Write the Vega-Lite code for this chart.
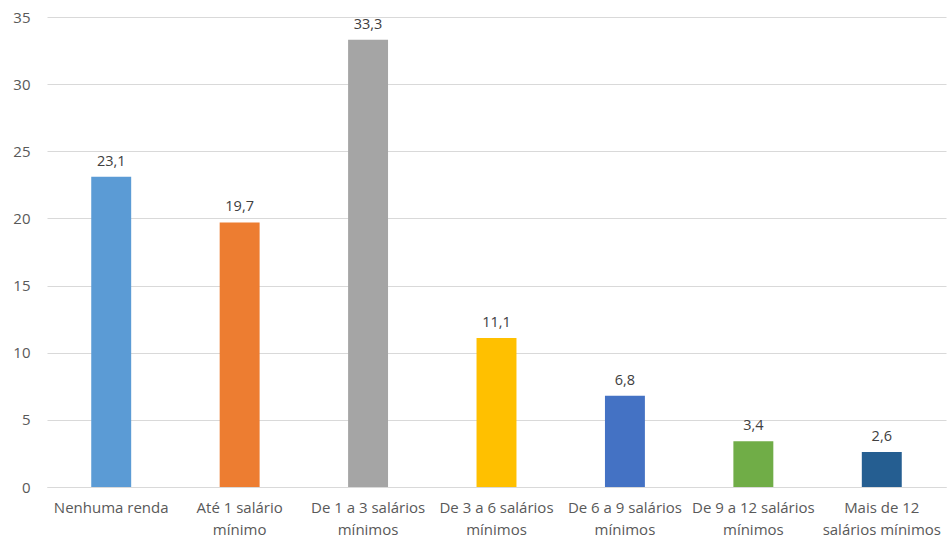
{
  "$schema": "https://vega.github.io/schema/vega-lite/v6.json",
  "width": 899,
  "height": 470,
  "autosize": {"type": "none"},
  "padding": {"left": 47, "top": 17, "right": 3, "bottom": 54},
  "background": "white",
  "config": {
    "view": {"stroke": null},
    "font": "Open Sans",
    "locale": {"number": {"decimal": ",", "thousands": ".", "grouping": [3], "currency": ["R$", ""]}}
  },
  "data": {
    "values": [
      {"faixa": "Nenhuma renda", "pct": 23.1},
      {"faixa": "Até 1 salário mínimo", "pct": 19.7},
      {"faixa": "De 1 a 3 salários mínimos", "pct": 33.3},
      {"faixa": "De 3 a 6 salários mínimos", "pct": 11.1},
      {"faixa": "De 6 a 9 salários mínimos", "pct": 6.8},
      {"faixa": "De 9 a 12 salários mínimos", "pct": 3.4},
      {"faixa": "Mais de 12 salários mínimos", "pct": 2.6}
    ]
  },
  "encoding": {
    "x": {
      "field": "faixa",
      "type": "nominal",
      "sort": null,
      "title": null,
      "scale": {"paddingInner": 0.689, "paddingOuter": 0.3445},
      "axis": {
        "labelAngle": 0,
        "labelFontSize": 15,
        "labelColor": "#595959",
        "labelPadding": 13,
        "labelLineHeight": 22,
        "labelBaseline": "top",
        "ticks": false,
        "domainColor": "#d9d9d9",
        "labelExpr": "datum.label == 'Nenhuma renda' ? datum.label : (datum.label == 'Mais de 12 salários mínimos' ? ['Mais de 12', 'salários mínimos'] : [slice(datum.label, 0, lastindexof(datum.label, ' ')), slice(datum.label, lastindexof(datum.label, ' ') + 1)])"
      }
    },
    "y": {
      "field": "pct",
      "type": "quantitative",
      "title": null,
      "scale": {"domain": [0, 35], "nice": false},
      "axis": {
        "values": [0, 5, 10, 15, 20, 25, 30, 35],
        "labelFontSize": 15,
        "labelColor": "#595959",
        "labelPadding": 17,
        "ticks": false,
        "domain": false,
        "gridColor": "#d9d9d9",
        "gridWidth": 1
      }
    }
  },
  "layer": [
    {
      "mark": {"type": "bar"},
      "encoding": {
        "color": {
          "field": "faixa",
          "type": "nominal",
          "sort": null,
          "legend": null,
          "scale": {
            "range": ["#5B9BD5", "#ED7D31", "#A5A5A5", "#FFC000", "#4472C4", "#70AD47", "#255E91"]
          }
        }
      }
    },
    {
      "mark": {"type": "text", "baseline": "bottom", "dy": -8, "fontSize": 14.5, "color": "#404040"},
      "encoding": {
        "text": {"field": "pct", "type": "quantitative", "format": ".1f"}
      }
    }
  ]
}
